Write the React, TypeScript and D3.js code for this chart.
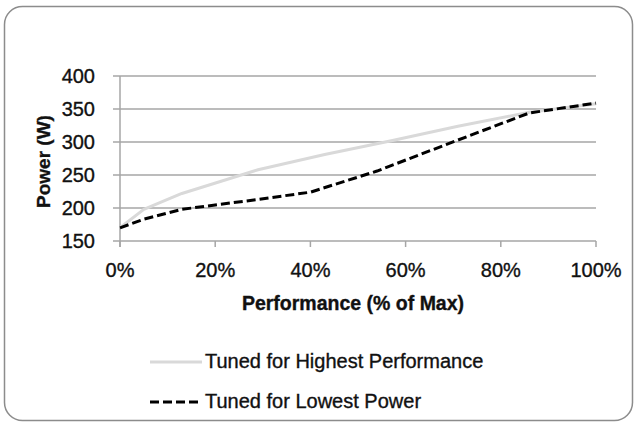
import React from "react";
import * as d3 from "d3";

const perfHigh: [number, number][] = [
  [0, 170], [5, 198], [13, 222], [29, 258], [43, 281], [57, 302], [71, 324], [86, 345], [100, 358],
];
const perfLow: [number, number][] = [
  [0, 170], [5, 183], [13, 198], [29, 213], [40, 224], [54, 256], [71, 303], [86, 344], [100, 359],
];
const yTicks = [150, 200, 250, 300, 350, 400];
const xTicks = [0, 20, 40, 60, 80, 100];
const seriesNames = ["Tuned for Highest Performance", "Tuned for Lowest Power"];
const xTitle = "Performance (% of Max)";
const yTitle = "Power (W)";

const W = 635, H = 427;
const FONT = "'Liberation Sans', Arial, sans-serif";

export default function App() {
  const x = d3.scaleLinear().domain([0, 100]).range([120, 596]);
  const y = d3.scaleLinear().domain([150, 400]).range([241, 76]);
  const line = d3.line<[number, number]>().x(d => x(d[0])).y(d => y(d[1]));
  const grid = "#a6a6a6";
  const txt = { fontFamily: FONT, fill: "#111", stroke: "#111", strokeWidth: 0.35 } as const;
  return (
    <svg width={W} height={H} style={{ position: "absolute", left: 0, top: 0, background: "#fff" }}>
      <rect x={4.5} y={6.5} width={628} height={414} rx={18} ry={18} fill="#fff" stroke="#8c8c8c" strokeWidth={1.5} />
      {yTicks.map(t => (
        <g key={t}>
          <line x1={113} x2={596} y1={y(t)} y2={y(t)} stroke={grid} strokeWidth={1.5} />
          <text x={95} y={y(t)} dy="0.36em" textAnchor="end" fontSize={20} {...txt}>{t}</text>
        </g>
      ))}
      <line x1={x(0)} x2={x(0)} y1={y(400)} y2={y(150) + 6} stroke={grid} strokeWidth={1.5} />
      {xTicks.map(t => (
        <g key={t}>
          <line x1={x(t)} x2={x(t)} y1={y(150)} y2={y(150) + 6} stroke={grid} strokeWidth={1.5} />
          <text x={x(t)} y={277} textAnchor="middle" fontSize={20} {...txt}>{t}%</text>
        </g>
      ))}
      <path d={line(perfHigh) || ""} fill="none" stroke="#d9d9d9" strokeWidth={3} strokeLinejoin="round" />
      <path d={line(perfLow) || ""} fill="none" stroke="#000" strokeWidth={3} strokeDasharray="9,4" strokeLinejoin="round" />
      <text x={353} y={310} textAnchor="middle" fontSize={19.5} fontWeight="bold" {...txt}>{xTitle}</text>
      <text transform={`translate(50,${(y(150) + y(400)) / 2 + 3}) rotate(-90)`} textAnchor="middle" fontSize={19} fontWeight="bold" {...txt}>{yTitle}</text>
      <line x1={150} x2={202} y1={362} y2={362} stroke="#d9d9d9" strokeWidth={3} />
      <text x={205} y={368} fontSize={20} {...txt}>{seriesNames[0]}</text>
      <line x1={150} x2={202} y1={402} y2={402} stroke="#000" strokeWidth={3} strokeDasharray="9,4" />
      <text x={205} y={408} fontSize={20} {...txt}>{seriesNames[1]}</text>
    </svg>
  );
}
